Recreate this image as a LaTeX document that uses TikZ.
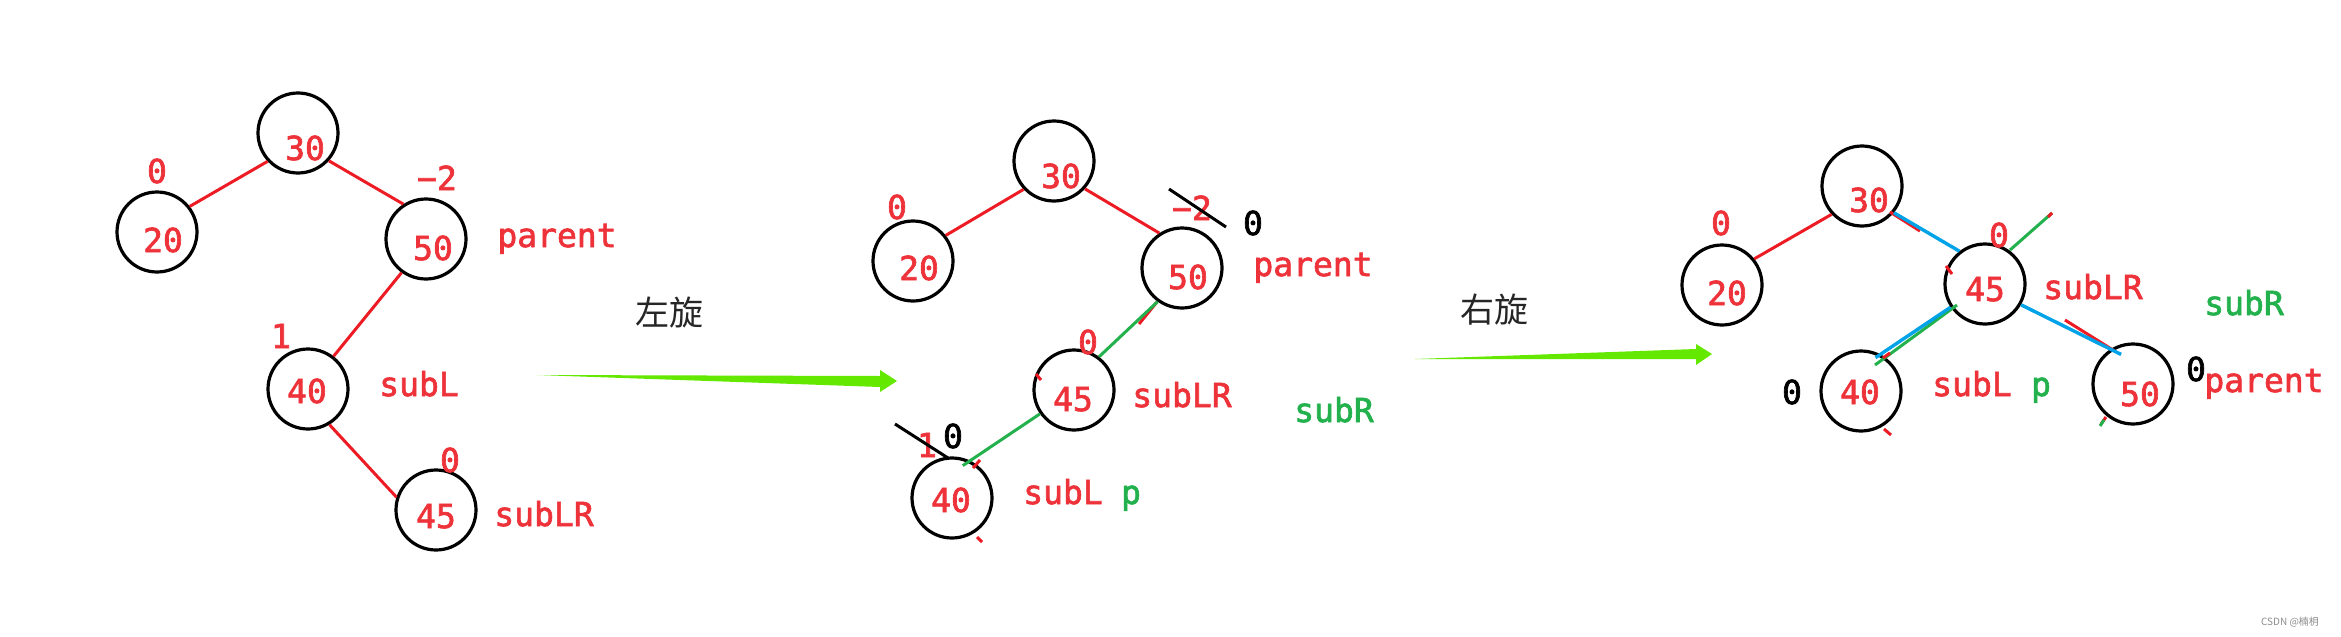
\documentclass[tikz,border=0pt]{standalone}
\usepackage{fontspec}
\newfontfamily\labelfont[FakeBold=2]{DejaVu Sans Mono}
\newfontfamily\cjk{Noto Sans CJK SC}
\definecolor{paintred}{RGB}{237,28,36}
\definecolor{txtred}{RGB}{238,50,58}
\definecolor{paintgreen}{RGB}{34,177,76}
\definecolor{paintblue}{RGB}{0,162,232}
\definecolor{arrowgreen}{RGB}{100,232,0}

\begin{document}
\begin{tikzpicture}[x=0.5pt,y=-0.5pt,
	ring/.style={circle,draw=black,line width=1.6pt,minimum size=40pt,inner sep=0pt},
	val/.style={text=txtred,font=\labelfont\fontsize{16.5}{18}\selectfont,anchor=base,inner sep=0pt},
	blackval/.style={val,text=black},
	greenval/.style={val,text=paintgreen},
	redline/.style={draw=paintred,line width=1.5pt},
	greenline/.style={draw=paintgreen,line width=1.5pt},
	blueline/.style={draw=paintblue,line width=1.7pt},
	strike/.style={draw=black,line width=1.5pt},
	turn/.style={font=\cjk\fontsize{17}{19}\selectfont,text=black!85}]
	\useasboundingbox (0,0) rectangle (2341,637);
	% first tree
	\node[ring] (a30) at (298,133) {};
	\node[ring] (a20) at (157,232) {};
	\node[ring] (a50) at (426,239) {};
	\node[ring] (a40) at (308,389) {};
	\node[ring] (a45) at (436,510) {};
	\node[val] (a30t) at (305,160) {30};
	\node[val] (a20t) at (163,252) {20};
	\node[val] (a50t) at (433,260) {50};
	\node[val] (a40t) at (307,403) {40};
	\node[val] (a45t) at (436,528) {45};
	\node[val] (a20b) at (157,183) {0};
	\node[val] (a50b) at (437,190) {−2};
	\node[val] (a40b) at (281,348) {1};
	\node[val] (a45b) at (450,472) {0};
	\node[val] (a50n) at (557,247) {parent};
	\node[val] (a40n) at (419,396) {subL};
	\node[val] (a45n) at (544,526) {subLR};
	\draw[redline] (a30.223) -- (a20.38);
	\draw[redline] (a30.318) -- (a50.123);
	\draw[redline] (a50.234) -- (a40.52);
	\draw[redline] (a40.301) -- (a45.162);
	% left rotation
	\node[turn] (left) at (669,313) {左旋};
	\fill[arrowgreen] (537,375) -- (880,376) -- (880,370) -- (897,381) -- (880,392) -- (880,387) -- cycle;
	% second tree
	\node[ring] (b30) at (1054,161) {};
	\node[ring] (b20) at (913,261) {};
	\node[ring] (b50) at (1182,268) {};
	\node[ring] (b45) at (1074,390) {};
	\node[ring] (b40) at (952,498) {};
	\node[val] (b30t) at (1061,188) {30};
	\node[val] (b20t) at (919,280) {20};
	\node[val] (b50t) at (1188,289) {50};
	\node[val] (b45t) at (1073,411) {45};
	\node[val] (b40t) at (951,512) {40};
	\node[val] (b20b) at (897,219) {0};
	\node[val] (b50b) at (1192,220) {−2};
	\node[blackval] (b50c) at (1253,235) {0};
	\node[val] (b45b) at (1088,354) {0};
	\node[val] (b40b) at (927,457) {1};
	\node[blackval] (b40c) at (953,448) {0};
	\node[val] (b50n) at (1313,276) {parent};
	\node[val] (b45n) at (1182,407) {subLR};
	\node[greenval] (b45r) at (1334,422) {subR};
	\node[val] (b40n) at (1063,504) {subL};
	\node[greenval] (b40p) at (1131,504) {p};
	\draw[redline] (b30.223) -- (b20.38);
	\draw[redline] (b30.318) -- (b50.123);
	\draw[redline] (1157,302) -- (1139,324);
	\draw[greenline] (b50.234) -- (b45.53);
	\draw[greenline,shorten >=-4.5pt] (b45.215) -- (b40.64);
	\draw[strike] (1169,189) -- (1226,227);
	\draw[strike] (895,424) -- (948,458);
	\draw[redline] (1036,374) -- (1041,380);
	\draw[redline] (973,468) -- (980,460);
	\draw[redline] (977,537) -- (982,542);
	% right rotation
	\node[turn] (right) at (1494,310) {右旋};
	\fill[arrowgreen] (1415,359) -- (1696,349) -- (1696,344) -- (1712,354) -- (1696,365) -- (1696,359) -- cycle;
	% third tree
	\node[ring] (c30) at (1862,186) {};
	\node[ring] (c20) at (1722,285) {};
	\node[ring] (c45) at (1985,284) {};
	\node[ring] (c40) at (1861,391) {};
	\node[ring] (c50) at (2133,384) {};
	\node[val] (c30t) at (1869,212) {30};
	\node[val] (c20t) at (1727,305) {20};
	\node[val] (c45t) at (1985,301) {45};
	\node[val] (c40t) at (1860,404) {40};
	\node[val] (c50t) at (2140,406) {50};
	\node[val] (c20b) at (1721,235) {0};
	\node[val] (c45b) at (1999,247) {0};
	\node[blackval] (c40b) at (1792,404) {0};
	\node[blackval] (c50b) at (2196,381) {0};
	\node[val] (c45n) at (2093,299) {subLR};
	\node[greenval] (c45r) at (2244,315) {subR};
	\node[val] (c40n) at (1972,396) {subL};
	\node[greenval] (c40p) at (2041,396) {p};
	\node[val] (c50n) at (2264,392) {parent};
	\draw[redline] (c30.223) -- (c20.39);
	\draw[redline] (1890,212) -- (1920,231);
	\draw[redline] (1946,266) -- (1952,274);
	\draw[greenline] (2010,250) -- (2052,213);
	\draw[redline] (2048,217) -- (2052,213);
	\draw[greenline] (1957,305) -- (1875,365);
	\draw[redline] (1883,358) -- (1890,353);
	\draw[redline] (2065,320) -- (2113,350);
	\draw[blueline] (c30.320) -- (c45.128);
	\draw[blueline,shorten >=-3pt] (c45.214) -- (c40.62);
	\draw[blueline,shorten >=-6pt] (c45.330) -- (c50.123);
	\draw[redline] (1884,429) -- (1891,435);
	\draw[redline] (2106,417) -- (2101,424);
	\draw[greenline] (2104,420) -- (2100,426);
	\node[font=\cjk\fontsize{5}{6}\selectfont,text=black!45] (mark) at (2290,622) {CSDN @楠枂};
\end{tikzpicture}
\end{document}
